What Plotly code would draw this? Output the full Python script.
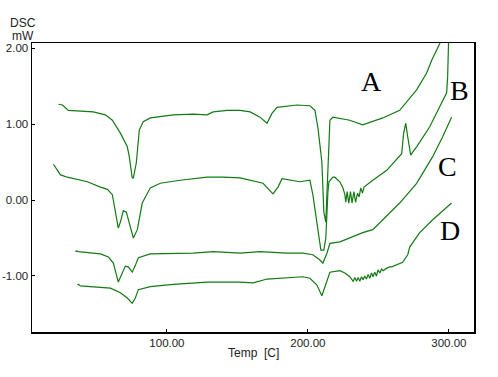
import plotly.graph_objects as go

# ---- data (temperature in C, heat flow in mW) ----
a_temp = [23.1, 25.9, 30.1, 47.8, 56.3, 61.3, 67.0, 71.9, 73.3, 75.4, 76.2, 78.3, 80.4, 83.2, 88.2,
          104.5, 118.6, 128.5, 132.8, 142.7, 151.9, 159.0, 166.0, 171.0, 174.5, 178.1, 192.2, 201.4,
          205.0, 207.1, 209.9, 211.3, 212.7, 214.2, 215.6, 217.7, 229.7, 238.9, 253.1, 265.1, 277.1,
          284.2, 287.8, 292.0, 294.8]
a_dsc = [1.26, 1.25, 1.18, 1.16, 1.12, 1.05, 0.88, 0.70, 0.57, 0.29, 0.29, 0.49, 0.92, 1.03, 1.08,
         1.12, 1.13, 1.12, 1.16, 1.18, 1.18, 1.16, 1.09, 1.01, 1.14, 1.22, 1.25, 1.24,
         1.18, 0.95, 0.50, -0.16, -0.29, 0.39, 1.05, 1.09, 1.05, 0.99, 1.08, 1.18, 1.45,
         1.67, 1.84, 2.00, 2.11]

b_temp = [19.5, 21.0, 24.5, 29.4, 43.6, 52.8, 57.8, 61.3, 63.4, 65.5, 67.0, 69.1, 71.2, 73.3, 76.2,
          79.0, 82.5, 88.2, 95.3, 109.4, 128.5, 139.8, 151.9, 168.2, 173.1, 175.2, 178.8, 181.6,
          194.3, 201.4, 203.5, 207.1, 209.2, 211.3, 212.7, 214.2, 214.9, 217.7, 219.1, 222.6, 224.8,
          226.2, 226.9, 227.8, 229.0, 230.2, 231.3, 232.6, 233.8, 235.2, 236.3, 237.5, 238.7, 239.8,
          246.0, 255.9, 265.1, 266.5, 267.9, 269.4, 270.8, 272.9, 274.3, 277.1, 286.3, 291.3, 293.4,
          298.4, 299.1, 299.5, 299.8]
b_dsc = [0.47, 0.43, 0.33, 0.30, 0.24, 0.17, 0.14, 0.07, -0.13, -0.37, -0.29, -0.14, -0.16, -0.30, -0.50,
         -0.39, -0.04, 0.16, 0.22, 0.26, 0.30, 0.30, 0.29, 0.22, 0.13, 0.08, 0.17, 0.28,
         0.24, 0.26, 0.07, -0.37, -0.66, -0.66, -0.50, 0.11, 0.24, 0.30, 0.30, 0.24, 0.16,
         0.07, -0.03, 0.11, -0.04, 0.11, -0.04, 0.11, -0.03, 0.09, 0.04, 0.16, 0.09, 0.17,
         0.26, 0.39, 0.57, 0.61, 0.88, 1.01, 0.83, 0.59, 0.63, 0.70, 0.96, 1.14, 1.21,
         1.41, 1.62, 1.84, 2.11]

c_temp = [35.1, 35.8, 37.2, 52.8, 58.5, 62.0, 65.5, 68.4, 70.5, 72.6, 75.4, 77.6, 79.7, 88.2, 118.6,
          132.8, 151.9, 166.0, 185.1, 196.5, 203.5, 208.5, 210.6, 213.5, 215.6, 222.7, 229.7, 238.9,
          246.0, 253.1, 265.1, 277.1, 288.5, 295.5, 301.9]
c_dsc = [-0.68, -0.67, -0.68, -0.71, -0.75, -0.83, -1.08, -0.96, -0.87, -0.88, -0.95, -0.86, -0.76, -0.71, -0.70,
         -0.68, -0.70, -0.68, -0.70, -0.70, -0.72, -0.79, -0.83, -0.70, -0.57, -0.55, -0.50, -0.43,
         -0.39, -0.26, -0.04, 0.22, 0.57, 0.83, 1.09]

d_temp = [36.5, 37.2, 38.6, 59.9, 67.0, 71.9, 75.4, 77.6, 79.7, 88.2, 104.5, 128.5, 151.9, 161.1, 171.0,
          196.5, 201.4, 206.4, 209.9, 213.5, 215.6, 222.7, 226.2, 229.7, 232.1, 233.3, 234.5, 235.6,
          236.8, 238.0, 239.1, 240.3, 241.5, 242.7, 243.9, 245.1, 246.2, 247.4, 248.6, 249.7, 251.0,
          252.2, 253.3, 255.7, 258.0, 259.4, 267.2, 270.8, 272.2, 279.3, 288.5, 301.9]
d_dsc = [-1.12, -1.11, -1.13, -1.16, -1.22, -1.29, -1.36, -1.29, -1.18, -1.14, -1.11, -1.08, -1.08, -1.09, -1.04,
         -1.01, -1.03, -1.12, -1.26, -1.05, -0.95, -0.93, -0.96, -1.01, -1.07, -1.02, -1.07, -1.02,
         -1.07, -1.01, -1.05, -1.00, -1.04, -0.98, -1.03, -0.96, -1.01, -0.95, -1.00, -0.92, -0.96,
         -0.91, -0.93, -0.90, -0.88, -0.88, -0.82, -0.72, -0.62, -0.43, -0.26, -0.04]

curve_labels = ["A", "B", "C", "D"]
label_temp = [245.1, 307.6, 298.9, 300.5]
label_dsc = [1.557, 1.438, 0.438, -0.395]

x_tickvals = [100, 200, 300]
x_ticktext = ["100.00", "200.00", "300.00"]
y_tickvals = [-1, 0, 1, 2]
y_ticktext = ["-1.00", "0.00", "1.00", "2.00"]

LINE = "#137a13"
W, H = 498, 377
ML, MR, MT, MB = 31.5, 23.5, 43, 45
PW, PH = W - ML - MR, H - MT - MB


def px_to_paper(px, py):
    return (px - ML) / PW, 1 - (py - MT) / PH


fig = go.Figure()
for xs, ys in [(a_temp, a_dsc), (b_temp, b_dsc), (c_temp, c_dsc), (d_temp, d_dsc)]:
    fig.add_trace(go.Scatter(x=xs, y=ys, mode="lines",
                             line=dict(color=LINE, width=1.2), showlegend=False,
                             hoverinfo="skip"))

for lab, tx, ty in zip(curve_labels, label_temp, label_dsc):
    fig.add_annotation(x=tx, y=ty, xref="x", yref="y", text=lab, showarrow=False,
                       font=dict(family="Liberation Serif", size=28, color="black"))

cap_font = dict(family="Liberation Sans", size=12, color="#222222")
for text, (px, py) in [("DSC", (22, 23)), ("mW", (22, 36)), ("Temp&nbsp;&nbsp;[C]", (253, 353))]:
    xp, yp = px_to_paper(px, py)
    fig.add_annotation(x=xp, y=yp, xref="paper", yref="paper", text=text,
                       showarrow=False, font=cap_font, xanchor="center", yanchor="middle")

axis_common = dict(showgrid=False, zeroline=False, automargin=False,
                   showline=True, linecolor="black", linewidth=1.5, mirror=True,
                   ticks="inside", ticklen=3, tickcolor="black",
                   tickfont=dict(family="Liberation Sans", size=11.5, color="#222222"))

fig.update_layout(
    width=W, height=H,
    margin=dict(l=ML, r=MR, t=MT, b=MB, pad=0, autoexpand=False),
    paper_bgcolor="white", plot_bgcolor="white",
    hovermode=False,
    xaxis=dict(range=[4.3, 317.8], tickvals=x_tickvals, ticktext=x_ticktext, **axis_common),
    yaxis=dict(range=[-1.737, 2.066], tickvals=y_tickvals, ticktext=y_ticktext, **axis_common),
)

fig.write_html("out.html",
               config={"displayModeBar": False, "staticPlot": True},
               post_script="document.body.style.margin='0px';document.body.style.overflow='hidden';")
